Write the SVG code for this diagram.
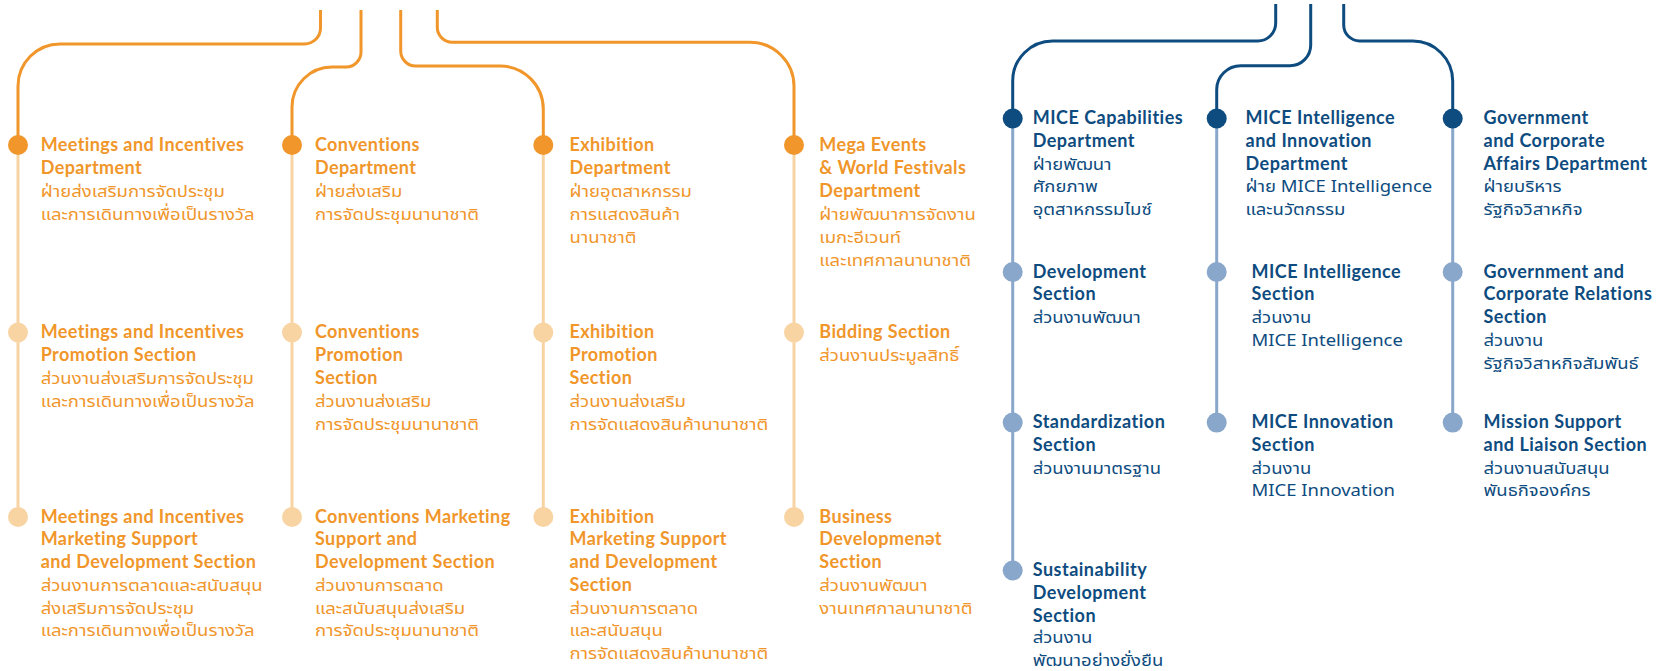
<svg xmlns="http://www.w3.org/2000/svg" width="1665" height="671" viewBox="0 0 1665 671">
<style>
.bg{fill:#ffffff}
.main-o{fill:none;stroke:#F0962B;stroke-width:3}
.sub-o{fill:none;stroke:#F9D4A3;stroke-width:3}
.main-b{fill:none;stroke:#0E4C80;stroke-width:3}
.sub-b{fill:none;stroke:#89A7CB;stroke-width:3}
.dot-o{fill:#F0962B}
.dotl-o{fill:#F9D4A3}
.dot-b{fill:#0E4C80}
.dotl-b{fill:#89A7CB}
.to{fill:#F0962B}
.tb{fill:#0E4C80}
.e{font-family:Lato,"Noto Sans",sans-serif;font-weight:700;font-size:18px;letter-spacing:0.4px}
.e.tb{letter-spacing:0.5px}
.t{font-family:"Noto Sans Thai","Noto Sans",sans-serif;font-weight:400;font-size:16.6px}
</style>
<rect class="bg" x="0" y="0" width="1665" height="671"/>
<g id="connectors">
  <path class="sub-o" d="M18,145 V517"/>
  <path class="sub-o" d="M292,145 V517"/>
  <path class="sub-o" d="M543.3,145 V517"/>
  <path class="sub-o" d="M794,145 V517"/>
  <path class="sub-b" d="M1012.7,118.5 V570.5"/>
  <path class="sub-b" d="M1216.7,118.5 V422.6"/>
  <path class="sub-b" d="M1452.7,118.5 V422.6"/>
  <path class="main-o" d="M320.5,10 V28 A16,16 0 0 1 304.5,44 H60 A42,42 0 0 0 18,86 V145"/>
  <path class="main-o" d="M361,10 V52 A15,15 0 0 1 346,67 H332 A40,40 0 0 0 292,107 V145"/>
  <path class="main-o" d="M400.7,10 V51 A15,15 0 0 0 415.7,66 H500 A43.3,43.3 0 0 1 543.3,109.3 V145"/>
  <path class="main-o" d="M437.3,10 V27.3 A15,15 0 0 0 452.3,42.3 H750 A44,44 0 0 1 794,86.3 V145"/>
  <path class="main-b" d="M1275.7,4 V23 A18,18 0 0 1 1257.7,41 H1052.7 A40,40 0 0 0 1012.7,81 V118.5"/>
  <path class="main-b" d="M1310.7,4 V45 A20.7,20.7 0 0 1 1290,65.7 H1240.7 A24,24 0 0 0 1216.7,89.7 V118.5"/>
  <path class="main-b" d="M1343.7,4 V25 A16,16 0 0 0 1359.7,41 H1412.7 A40,40 0 0 1 1452.7,81 V118.5"/>
</g>
<g id="meetings-dept">
  <circle class="dot-o" cx="18" cy="145" r="10"/>
  <text class="e to"><tspan x="40.7" y="150.7">Meetings and Incentives</tspan><tspan x="40.7" y="173.7">Department</tspan></text>
  <text class="t to" transform="translate(40.7,0) scale(1.114,1)"><tspan x="0" y="196.7">ฝ่ายส่งเสริมการจัดประชุม</tspan><tspan x="0" y="219.7">และการเดินทางเพื่อเป็นรางวัล</tspan></text>
</g>
<g id="meetings-promotion">
  <circle class="dotl-o" cx="18" cy="332.5" r="10"/>
  <text class="e to"><tspan x="40.7" y="338">Meetings and Incentives</tspan><tspan x="40.7" y="361">Promotion Section</tspan></text>
  <text class="t to" transform="translate(40.7,0) scale(1.114,1)"><tspan x="0" y="384">ส่วนงานส่งเสริมการจัดประชุม</tspan><tspan x="0" y="407">และการเดินทางเพื่อเป็นรางวัล</tspan></text>
</g>
<g id="meetings-marketing">
  <circle class="dotl-o" cx="18" cy="517" r="10"/>
  <text class="e to"><tspan x="40.7" y="522.5">Meetings and Incentives</tspan><tspan x="40.7" y="545.3">Marketing Support</tspan><tspan x="40.7" y="568.1">and Development Section</tspan></text>
  <text class="t to" transform="translate(40.7,0) scale(1.114,1)"><tspan x="0" y="590.9">ส่วนงานการตลาดและสนับสนุน</tspan><tspan x="0" y="613.7">ส่งเสริมการจัดประชุม</tspan><tspan x="0" y="636.5">และการเดินทางเพื่อเป็นรางวัล</tspan></text>
</g>
<g id="conventions-dept">
  <circle class="dot-o" cx="292" cy="145" r="10"/>
  <text class="e to"><tspan x="315" y="150.7">Conventions</tspan><tspan x="315" y="173.7">Department</tspan></text>
  <text class="t to" transform="translate(315,0) scale(1.114,1)"><tspan x="0" y="196.7">ฝ่ายส่งเสริม</tspan><tspan x="0" y="219.7">การจัดประชุมนานาชาติ</tspan></text>
</g>
<g id="conventions-promotion">
  <circle class="dotl-o" cx="292" cy="332.5" r="10"/>
  <text class="e to"><tspan x="315" y="338">Conventions</tspan><tspan x="315" y="361">Promotion</tspan><tspan x="315" y="384">Section</tspan></text>
  <text class="t to" transform="translate(315,0) scale(1.114,1)"><tspan x="0" y="407">ส่วนงานส่งเสริม</tspan><tspan x="0" y="430">การจัดประชุมนานาชาติ</tspan></text>
</g>
<g id="conventions-marketing">
  <circle class="dotl-o" cx="292" cy="517" r="10"/>
  <text class="e to"><tspan x="315" y="522.5">Conventions Marketing</tspan><tspan x="315" y="545.3">Support and</tspan><tspan x="315" y="568.1">Development Section</tspan></text>
  <text class="t to" transform="translate(315,0) scale(1.114,1)"><tspan x="0" y="590.9">ส่วนงานการตลาด</tspan><tspan x="0" y="613.7">และสนับสนุนส่งเสริม</tspan><tspan x="0" y="636.5">การจัดประชุมนานาชาติ</tspan></text>
</g>
<g id="exhibition-dept">
  <circle class="dot-o" cx="543.3" cy="145" r="10"/>
  <text class="e to"><tspan x="569.5" y="150.7">Exhibition</tspan><tspan x="569.5" y="173.7">Department</tspan></text>
  <text class="t to" transform="translate(569.5,0) scale(1.114,1)"><tspan x="0" y="196.7">ฝ่ายอุตสาหกรรม</tspan><tspan x="0" y="219.7">การแสดงสินค้า</tspan><tspan x="0" y="242.7">นานาชาติ</tspan></text>
</g>
<g id="exhibition-promotion">
  <circle class="dotl-o" cx="543.3" cy="332.5" r="10"/>
  <text class="e to"><tspan x="569.5" y="338">Exhibition</tspan><tspan x="569.5" y="361">Promotion</tspan><tspan x="569.5" y="384">Section</tspan></text>
  <text class="t to" transform="translate(569.5,0) scale(1.114,1)"><tspan x="0" y="407">ส่วนงานส่งเสริม</tspan><tspan x="0" y="430">การจัดแสดงสินค้านานาชาติ</tspan></text>
</g>
<g id="exhibition-marketing">
  <circle class="dotl-o" cx="543.3" cy="517" r="10"/>
  <text class="e to"><tspan x="569.5" y="522.5">Exhibition</tspan><tspan x="569.5" y="545.3">Marketing Support</tspan><tspan x="569.5" y="568.1">and Development</tspan><tspan x="569.5" y="590.9">Section</tspan></text>
  <text class="t to" transform="translate(569.5,0) scale(1.114,1)"><tspan x="0" y="613.7">ส่วนงานการตลาด</tspan><tspan x="0" y="636.5">และสนับสนุน</tspan><tspan x="0" y="659.3">การจัดแสดงสินค้านานาชาติ</tspan></text>
</g>
<g id="mega-dept">
  <circle class="dot-o" cx="794" cy="145" r="10"/>
  <text class="e to"><tspan x="819.3" y="150.7">Mega Events</tspan><tspan x="819.3" y="173.7">&amp; World Festivals</tspan><tspan x="819.3" y="196.7">Department</tspan></text>
  <text class="t to" transform="translate(819.3,0) scale(1.114,1)"><tspan x="0" y="219.7">ฝ่ายพัฒนาการจัดงาน</tspan><tspan x="0" y="242.7">เมกะอีเวนท์</tspan><tspan x="0" y="265.7">และเทศกาลนานาชาติ</tspan></text>
</g>
<g id="bidding">
  <circle class="dotl-o" cx="794" cy="332.5" r="10"/>
  <text class="e to"><tspan x="819.3" y="338">Bidding Section</tspan></text>
  <text class="t to" transform="translate(819.3,0) scale(1.114,1)"><tspan x="0" y="361">ส่วนงานประมูลสิทธิ์</tspan></text>
</g>
<g id="business-dev">
  <circle class="dotl-o" cx="794" cy="517" r="10"/>
  <text class="e to"><tspan x="819.3" y="522.5">Business</tspan><tspan x="819.3" y="545.3">Developmenət</tspan><tspan x="819.3" y="568.1">Section</tspan></text>
  <text class="t to" transform="translate(819.3,0) scale(1.114,1)"><tspan x="0" y="590.9">ส่วนงานพัฒนา</tspan><tspan x="0" y="613.7">งานเทศกาลนานาชาติ</tspan></text>
</g>
<g id="mice-capabilities-dept">
  <circle class="dot-b" cx="1012.7" cy="118.5" r="10"/>
  <text class="e tb"><tspan x="1032.7" y="124">MICE Capabilities</tspan><tspan x="1032.7" y="146.8">Department</tspan></text>
  <text class="t tb" transform="translate(1032.7,0) scale(1.114,1)"><tspan x="0" y="169.6">ฝ่ายพัฒนา</tspan><tspan x="0" y="192.4">ศักยภาพ</tspan><tspan x="0" y="215.2">อุตสาหกรรมไมซ์</tspan></text>
</g>
<g id="development-section">
  <circle class="dotl-b" cx="1012.7" cy="272" r="10"/>
  <text class="e tb"><tspan x="1032.7" y="277.5">Development</tspan><tspan x="1032.7" y="300.3">Section</tspan></text>
  <text class="t tb" transform="translate(1032.7,0) scale(1.114,1)"><tspan x="0" y="323.1">ส่วนงานพัฒนา</tspan></text>
</g>
<g id="standardization-section">
  <circle class="dotl-b" cx="1012.7" cy="422.6" r="10"/>
  <text class="e tb"><tspan x="1032.7" y="428.1">Standardization</tspan><tspan x="1032.7" y="450.9">Section</tspan></text>
  <text class="t tb" transform="translate(1032.7,0) scale(1.114,1)"><tspan x="0" y="473.7">ส่วนงานมาตรฐาน</tspan></text>
</g>
<g id="sustainability-section">
  <circle class="dotl-b" cx="1012.7" cy="570.5" r="10"/>
  <text class="e tb"><tspan x="1032.7" y="576">Sustainability</tspan><tspan x="1032.7" y="598.8">Development</tspan><tspan x="1032.7" y="621.6">Section</tspan></text>
  <text class="t tb" transform="translate(1032.7,0) scale(1.114,1)"><tspan x="0" y="643.2">ส่วนงาน</tspan><tspan x="0" y="666">พัฒนาอย่างยั่งยืน</tspan></text>
</g>
<g id="mice-intelligence-dept">
  <circle class="dot-b" cx="1216.7" cy="118.5" r="10"/>
  <text class="e tb"><tspan x="1245.5" y="124">MICE Intelligence</tspan><tspan x="1245.5" y="146.8">and Innovation</tspan><tspan x="1245.5" y="169.6">Department</tspan></text>
  <text class="t tb" transform="translate(1245.5,0) scale(1.114,1)"><tspan x="0" y="192.4">ฝ่าย MICE Intelligence</tspan><tspan x="0" y="215.2">และนวัตกรรม</tspan></text>
</g>
<g id="mice-intelligence-section">
  <circle class="dotl-b" cx="1216.7" cy="272" r="10"/>
  <text class="e tb"><tspan x="1251.5" y="277.5">MICE Intelligence</tspan><tspan x="1251.5" y="300.3">Section</tspan></text>
  <text class="t tb" transform="translate(1251.5,0) scale(1.114,1)"><tspan x="0" y="323.1">ส่วนงาน</tspan><tspan x="0" y="345.9">MICE Intelligence</tspan></text>
</g>
<g id="mice-innovation-section">
  <circle class="dotl-b" cx="1216.7" cy="422.6" r="10"/>
  <text class="e tb"><tspan x="1251.5" y="428.1">MICE Innovation</tspan><tspan x="1251.5" y="450.9">Section</tspan></text>
  <text class="t tb" transform="translate(1251.5,0) scale(1.114,1)"><tspan x="0" y="473.7">ส่วนงาน</tspan><tspan x="0" y="496.5">MICE Innovation</tspan></text>
</g>
<g id="government-dept">
  <circle class="dot-b" cx="1452.7" cy="118.5" r="10"/>
  <text class="e tb"><tspan x="1483.5" y="124">Government</tspan><tspan x="1483.5" y="146.8">and Corporate</tspan><tspan x="1483.5" y="169.6">Affairs Department</tspan></text>
  <text class="t tb" transform="translate(1483.5,0) scale(1.114,1)"><tspan x="0" y="192.4">ฝ่ายบริหาร</tspan><tspan x="0" y="215.2">รัฐกิจวิสาหกิจ</tspan></text>
</g>
<g id="government-relations-section">
  <circle class="dotl-b" cx="1452.7" cy="272" r="10"/>
  <text class="e tb"><tspan x="1483.5" y="277.5">Government and</tspan><tspan x="1483.5" y="300.3">Corporate Relations</tspan><tspan x="1483.5" y="323.1">Section</tspan></text>
  <text class="t tb" transform="translate(1483.5,0) scale(1.114,1)"><tspan x="0" y="345.9">ส่วนงาน</tspan><tspan x="0" y="368.7">รัฐกิจวิสาหกิจสัมพันธ์</tspan></text>
</g>
<g id="mission-support-section">
  <circle class="dotl-b" cx="1452.7" cy="422.6" r="10"/>
  <text class="e tb"><tspan x="1483.5" y="428.1">Mission Support</tspan><tspan x="1483.5" y="450.9">and Liaison Section</tspan></text>
  <text class="t tb" transform="translate(1483.5,0) scale(1.114,1)"><tspan x="0" y="473.7">ส่วนงานสนับสนุน</tspan><tspan x="0" y="496.5">พันธกิจองค์กร</tspan></text>
</g>
</svg>
